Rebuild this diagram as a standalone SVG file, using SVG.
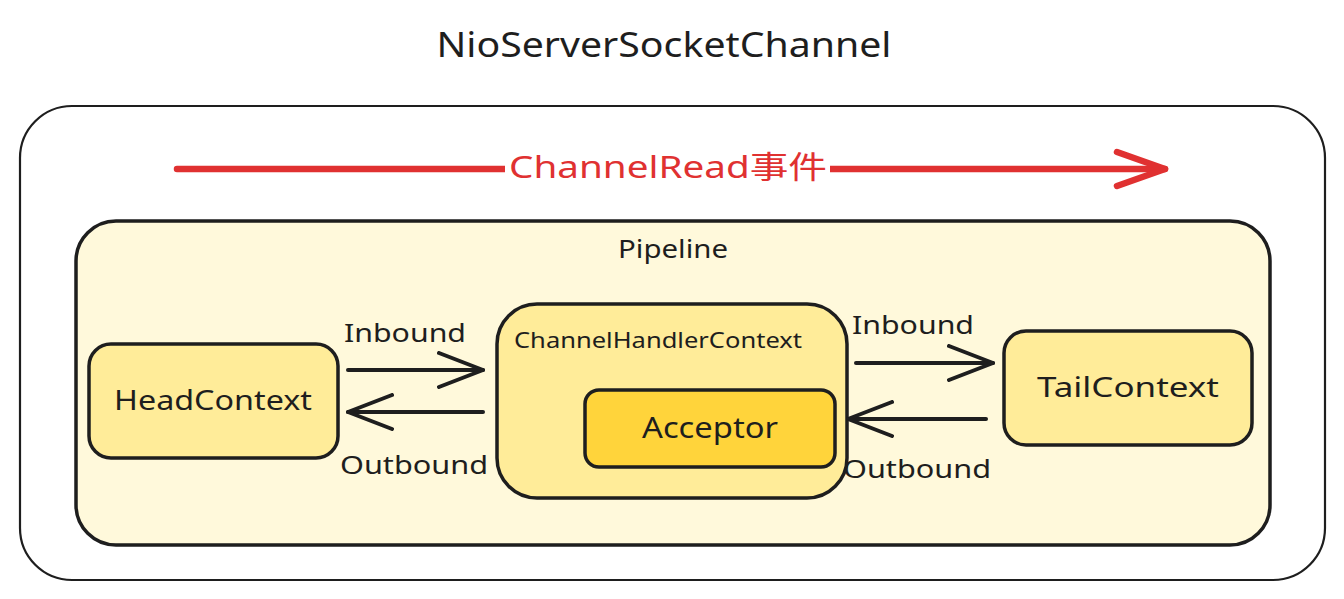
<svg xmlns="http://www.w3.org/2000/svg" width="1344" height="599" viewBox="0 0 1344 599">
<defs>
<style>
.t{font-family:"Noto Sans","Liberation Sans","Noto Sans CJK SC",sans-serif;fill:#1e1e1e}
.box{stroke:#1e1e1e;stroke-width:3.5}
.conn{stroke:#1e1e1e;stroke-width:4;fill:none;stroke-linecap:round}
</style>
<marker id="ah" viewBox="0 0 48 38" refX="46" refY="19" markerWidth="48" markerHeight="38" markerUnits="userSpaceOnUse" orient="auto">
<path d="M2 2 L46 19 L2 36" fill="none" stroke="#1e1e1e" stroke-width="4" stroke-linecap="round" stroke-linejoin="round"/>
</marker>
<marker id="ahr" viewBox="0 0 56 42" refX="52" refY="21" markerWidth="56" markerHeight="42" markerUnits="userSpaceOnUse" orient="auto">
<path d="M4 4 L52 21 L4 38" fill="none" stroke="#e03131" stroke-width="6.5" stroke-linecap="round" stroke-linejoin="round"/>
</marker>
</defs>
<rect width="1344" height="599" fill="#ffffff"/>
<text class="t" x="664" y="57" font-size="34" text-anchor="middle" textLength="455" lengthAdjust="spacingAndGlyphs">NioServerSocketChannel</text>
<g id="outer">
<rect x="20" y="106" width="1305" height="474" rx="52" fill="#ffffff" stroke="#1e1e1e" stroke-width="2.2"/>
</g>
<g id="pipeline">
<rect class="box" x="76" y="221" width="1194" height="324" rx="40" fill="#fff9db"/>
<text class="t" x="673" y="258" font-size="25" text-anchor="middle" textLength="110" lengthAdjust="spacingAndGlyphs">Pipeline</text>
</g>
<g id="head">
<rect class="box" x="89" y="344" width="249" height="114" rx="22" fill="#ffec99"/>
<text class="t" x="213" y="410" font-size="28" text-anchor="middle" textLength="198" lengthAdjust="spacingAndGlyphs">HeadContext</text>
</g>
<g id="chc">
<rect class="box" x="497" y="304" width="350" height="194" rx="40" fill="#ffec99"/>
<text class="t" x="514" y="348" font-size="21" textLength="288" lengthAdjust="spacingAndGlyphs">ChannelHandlerContext</text>
</g>
<g id="acceptor">
<rect class="box" x="585" y="390" width="250" height="77" rx="14" fill="#ffd43b"/>
<text class="t" x="710" y="438" font-size="29" text-anchor="middle" textLength="136" lengthAdjust="spacingAndGlyphs">Acceptor</text>
</g>
<g id="tail">
<rect class="box" x="1004" y="331" width="248" height="114" rx="22" fill="#ffec99"/>
<text class="t" x="1128" y="397" font-size="28" text-anchor="middle" textLength="182" lengthAdjust="spacingAndGlyphs">TailContext</text>
</g>
<g id="connectors">
<line x1="177" y1="169" x2="1165" y2="169" stroke="#e03131" stroke-width="6.5" stroke-linecap="round" marker-end="url(#ahr)"/>
<rect x="505" y="145" width="325" height="44" fill="#ffffff"/>
<text x="668" y="178" font-size="31" text-anchor="middle" fill="#e03131" font-family="Noto Sans, Liberation Sans, Noto Sans CJK SC, sans-serif" textLength="318" lengthAdjust="spacingAndGlyphs">ChannelRead事件</text>
<line class="conn" x1="348" y1="370" x2="483" y2="370" marker-end="url(#ah)"/>
<line class="conn" x1="483" y1="412" x2="348" y2="412" marker-end="url(#ah)"/>
<line class="conn" x1="856" y1="363" x2="993" y2="363" marker-end="url(#ah)"/>
<line class="conn" x1="986" y1="419" x2="848" y2="419" marker-end="url(#ah)"/>
<text class="t" x="405" y="342" font-size="26" text-anchor="middle" textLength="122" lengthAdjust="spacingAndGlyphs">Inbound</text>
<text class="t" x="414" y="474" font-size="26" text-anchor="middle" textLength="148" lengthAdjust="spacingAndGlyphs">Outbound</text>
<text class="t" x="913" y="334" font-size="26" text-anchor="middle" textLength="122" lengthAdjust="spacingAndGlyphs">Inbound</text>
<text class="t" x="917" y="478" font-size="26" text-anchor="middle" textLength="148" lengthAdjust="spacingAndGlyphs">Outbound</text>
</g>
</svg>
